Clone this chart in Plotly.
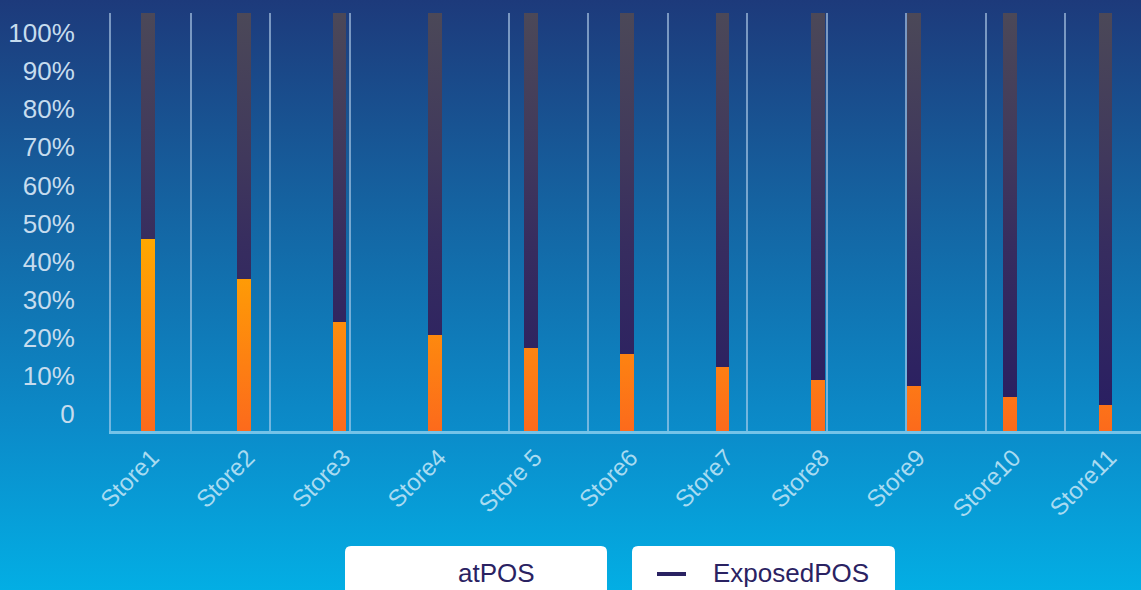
import base64
import json

import plotly.graph_objects as go

# ---- data -------------------------------------------------------------
stores = ["Store1", "Store2", "Store3", "Store4", "Store 5", "Store6",
          "Store7", "Store8", "Store9", "Store10", "Store11"]
at_pos = [45.9, 36.3, 26.1, 23.0, 19.9, 18.4, 15.3, 12.2, 10.8, 8.2, 6.2]
exposed_pos = [54.1, 63.7, 73.9, 77.0, 80.1, 81.6, 84.7, 87.8, 89.2, 91.8, 93.8]
series_names = ["atPOS", "ExposedPOS"]
y_tick_values = [0, 10, 20, 30, 40, 50, 60, 70, 80, 90, 100]
y_tick_labels = ["0", "10%", "20%", "30%", "40%", "50%",
                 "60%", "70%", "80%", "90%", "100%"]

# ---- geometry / style -------------------------------------------------
W, H = 1141, 590
PLOT_L, PLOT_R, PLOT_T, PLOT_B = 111, 1141, 13, 431
FONT = "Liberation Sans, Arial, Helvetica, sans-serif"
NAVY = "#2a2262"
GRID = "rgba(185,212,238,0.6)"


def px(x):
    return x / W


def py(y):
    return 1 - y / H


# page background: vertical blue gradient
bg_svg = (
    f'<svg xmlns="http://www.w3.org/2000/svg" width="{W}" height="{H}" '
    f'viewBox="0 0 {W} {H}" preserveAspectRatio="none">'
    '<defs><linearGradient id="bg" x1="0" y1="0" x2="0" y2="1">'
    '<stop offset="0" stop-color="#1d3a7b"/>'
    '<stop offset="0.34" stop-color="#1562a0"/>'
    '<stop offset="0.73" stop-color="#0b8cca"/>'
    '<stop offset="1" stop-color="#03aee4"/>'
    '</linearGradient></defs>'
    '<rect width="100%" height="100%" fill="url(#bg)"/></svg>'
)
bg_uri = "data:image/svg+xml;base64," + base64.b64encode(bg_svg.encode()).decode()

fig = go.Figure()
fig.add_trace(go.Bar(x=stores, y=at_pos, name=series_names[0],
                     marker=dict(color="#ff8a10", line=dict(width=0)),
                     width=0.146, hoverinfo="x+y"))
fig.add_trace(go.Bar(x=stores, y=exposed_pos, name=series_names[1],
                     marker=dict(color="#352b5f", line=dict(width=0)),
                     width=0.146, hoverinfo="x+y"))
# empty helpers so the grid axis (x2) and the label axis (y2) get rendered
fig.add_trace(go.Scatter(x=[None], y=[None], xaxis="x2", yaxis="y",
                         mode="markers", hoverinfo="skip", showlegend=False))
fig.add_trace(go.Scatter(x=[None], y=[None], xaxis="x", yaxis="y2",
                         mode="markers", hoverinfo="skip", showlegend=False))

step = (1105.5 - 148) / 10.0
x_lo = -(148 - PLOT_L) / step
x_hi = 10 + (PLOT_R - 1105.5) / step

# label scale for the left axis: "0" sits at y=414, "100%" at y=33
h_plot = PLOT_B - PLOT_T
f0 = (PLOT_B - 414) / h_plot
f100 = (PLOT_B - 33) / h_plot
span = 100 / (f100 - f0)
y2_lo = -f0 * span
y2_hi = y2_lo + span

grid_step = 79.5
x2_hi = (PLOT_R - PLOT_L) / grid_step

fig.update_layout(
    width=W, height=H,
    margin=dict(l=0, r=0, t=0, b=0),
    paper_bgcolor="#1168a8",
    plot_bgcolor="rgba(0,0,0,0)",
    barmode="stack",
    showlegend=False,
    font=dict(family=FONT),
    images=[dict(source=bg_uri, xref="paper", yref="paper", x=0, y=1,
                 sizex=1, sizey=1, sizing="stretch", xanchor="left",
                 yanchor="top", layer="below")],
    xaxis=dict(
        domain=[px(PLOT_L), 1], range=[x_lo, x_hi], type="category",
        tickangle=-45, tickfont=dict(size=24, color="#a9dbf1", family=FONT),
        ticks="outside", ticklen=0, tickcolor="rgba(0,0,0,0)",
        ticklabelshift=4,
        showgrid=False, zeroline=False, showline=True,
        linecolor="#74c3e8", linewidth=3, fixedrange=True, automargin=False,
    ),
    xaxis2=dict(
        overlaying="x", anchor="y", range=[-0.006, x2_hi - 0.006],
        tick0=0, dtick=1, showgrid=True, gridcolor=GRID,
        gridwidth=2, showticklabels=False, ticks="", zeroline=False,
        showline=False, fixedrange=True,
    ),
    yaxis=dict(
        domain=[py(PLOT_B), py(PLOT_T)], range=[0, 100],
        showgrid=False, zeroline=False, showticklabels=False, ticks="",
        showline=True, linecolor=GRID, linewidth=2,
        fixedrange=True, automargin=False,
    ),
    yaxis2=dict(
        overlaying="y", anchor="x", side="left", range=[y2_lo, y2_hi],
        tickvals=y_tick_values, ticktext=y_tick_labels,
        tickfont=dict(size=26, color="#c6dcee", family=FONT),
        ticks="outside", ticklen=30, tickcolor="rgba(0,0,0,0)",
        showgrid=False, zeroline=False, showline=False, fixedrange=True,
        automargin=False,
    ),
)


# legend: two white rounded boxes along the bottom edge
def rounded_box(x0, y0, x1, y1, r=6):
    rx, ry = r / W, r / H
    a, b, c, d = px(x0), px(x1), py(y0), py(y1)
    return (f"M{a + rx},{c} L{b - rx},{c} Q{b},{c} {b},{c - ry} "
            f"L{b},{d} L{a},{d} L{a},{c - ry} Q{a},{c} {a + rx},{c} Z")


shapes = [
    dict(type="path", xref="paper", yref="paper",
         path=rounded_box(345, 546, 607, 600), fillcolor="white",
         line=dict(width=0), layer="above"),
    dict(type="path", xref="paper", yref="paper",
         path=rounded_box(632, 546, 895, 600), fillcolor="white",
         line=dict(width=0), layer="above"),
    dict(type="line", xref="paper", yref="paper",
         x0=px(657), x1=px(686), y0=py(574), y1=py(574),
         line=dict(color=NAVY, width=4), layer="above"),
]
annotations = [
    dict(text=series_names[0], xref="paper", yref="paper", x=px(456),
         y=py(573), xanchor="left", yanchor="middle", showarrow=False,
         font=dict(size=26, color=NAVY, family=FONT)),
    dict(text=series_names[1], xref="paper", yref="paper", x=px(711),
         y=py(573), xanchor="left", yanchor="middle", showarrow=False,
         font=dict(size=26, color=NAVY, family=FONT)),
]
fig.update_layout(shapes=shapes, annotations=annotations)

# vertical colour ramps for the bar series (stops given in y-axis units)
bar_gradients = [
    [[0, "#fc6a1c"], [46, "#ffa800"]],
    [[0, "#281d62"], [45, "#372d5f"], [65, "#40385c"], [100, "#4b4858"]],
]

GRADIENT_JS = """
(function () {
  var gd = document.getElementById('{plot_id}');
  var NS = 'http://www.w3.org/2000/svg';
  var specs = __SPECS__;
  var ya = gd._fullLayout.yaxis;
  var svg = gd.querySelector('svg.main-svg');
  var defs = svg.querySelector('defs');
  if (!defs) {
    defs = document.createElementNS(NS, 'defs');
    svg.insertBefore(defs, svg.firstChild);
  }
  var traces = gd.querySelectorAll('.barlayer .trace.bars');
  specs.forEach(function (stops, i) {
    var id = 'bar-ramp-' + i;
    var g = document.createElementNS(NS, 'linearGradient');
    g.setAttribute('id', id);
    g.setAttribute('gradientUnits', 'userSpaceOnUse');
    var y1 = ya.l2p(stops[0][0]);
    var y2 = ya.l2p(stops[stops.length - 1][0]);
    g.setAttribute('x1', 0); g.setAttribute('x2', 0);
    g.setAttribute('y1', y1); g.setAttribute('y2', y2);
    stops.forEach(function (s) {
      var st = document.createElementNS(NS, 'stop');
      var off = (ya.l2p(s[0]) - y1) / (y2 - y1);
      st.setAttribute('offset', off);
      st.setAttribute('stop-color', s[1]);
      g.appendChild(st);
    });
    defs.appendChild(g);
    if (traces[i]) {
      traces[i].querySelectorAll('path').forEach(function (p) {
        p.style.fill = 'url(#' + id + ')';
      });
    }
  });
})();
""".replace("__SPECS__", json.dumps(bar_gradients))

fig.write_html("out.html", post_script=GRADIENT_JS)
